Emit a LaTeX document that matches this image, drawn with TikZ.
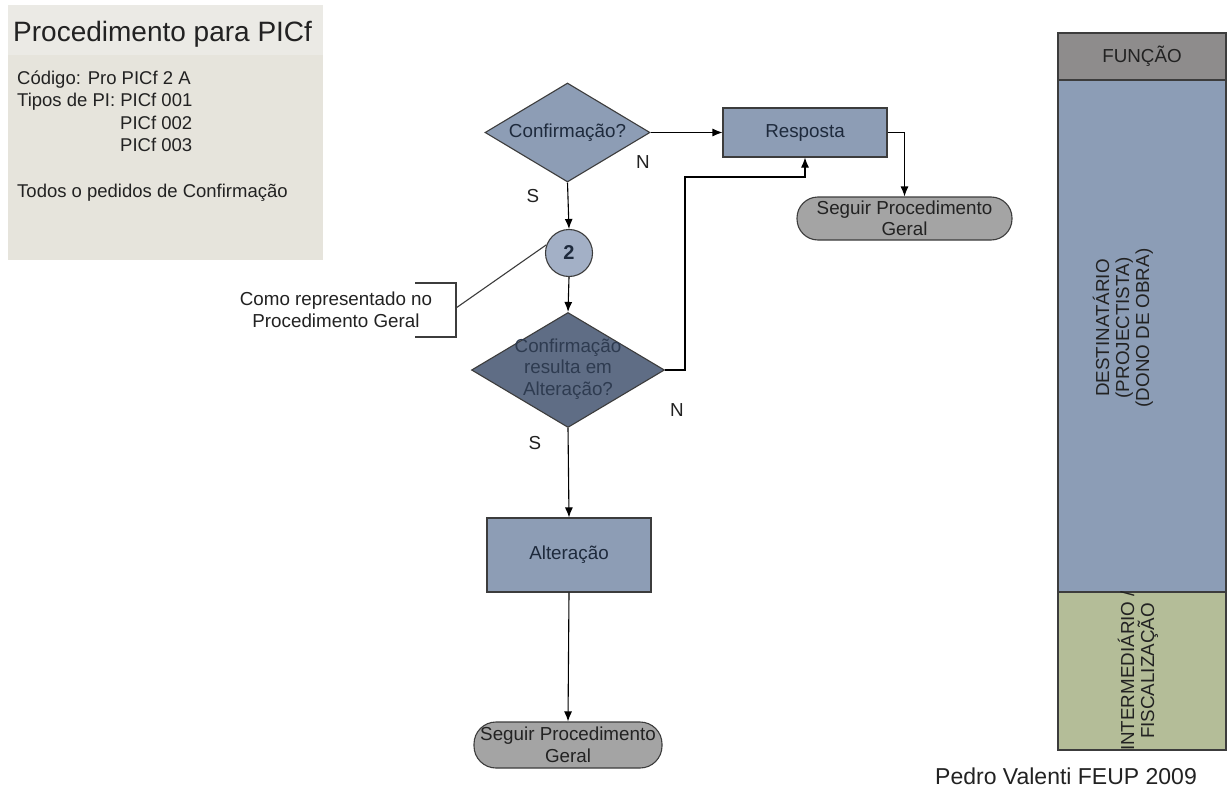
\documentclass[tikz,border=0pt]{standalone}
\usepackage{fontspec}
\setmainfont{Liberation Sans}
\usetikzlibrary{arrows.meta,shapes.geometric}

\definecolor{infobg}{HTML}{E6E4DC}
\definecolor{infotop}{HTML}{EBEAE5}
\definecolor{stepblue}{HTML}{8D9DB5}
\definecolor{connblue}{HTML}{A3B0C6}
\definecolor{decdark}{HTML}{5F6D85}
\definecolor{pillgray}{HTML}{A4A4A4}
\definecolor{lanehead}{HTML}{8E8C8C}
\definecolor{laneblue}{HTML}{8C9DB6}
\definecolor{lanegreen}{HTML}{B4BD98}
\definecolor{edge}{HTML}{3C3C3C}
\definecolor{navytext}{HTML}{1E2A3C}
\definecolor{dectext}{HTML}{2E3B50}
\definecolor{bodytext}{HTML}{222222}

\tikzset{
  flowfont/.style={font=\fontsize{18.8}{21.5}\selectfont},
  stepbox/.style={draw=edge, line width=1.1pt, fill=stepblue, rectangle,
    inner sep=0pt, flowfont, text=navytext},
  decision/.style={draw=edge, line width=1.1pt, diamond, inner sep=0pt},
  pill/.style={draw=edge, line width=1.1pt, fill=pillgray, rectangle,
    inner sep=0pt, flowfont, text=bodytext, align=center},
  connector/.style={draw=edge, line width=1.1pt, fill=connblue, circle,
    inner sep=0pt, minimum size=47pt, font=\fontsize{20}{22}\selectfont\bfseries,
    text=navytext},
  lane/.style={draw=edge, line width=1.1pt, rectangle, inner sep=0pt,
    minimum width=168pt},
  lanetext/.style={font=\fontsize{18.8}{20}\selectfont, text=bodytext, align=center},
  flow/.style={draw=black, line width=1.1pt, -{Latex[length=10pt,width=8pt]}},
  plain/.style={draw=edge, line width=1.1pt},
  yn/.style={flowfont, text=bodytext},
}

\begin{document}
\begin{tikzpicture}[x=1pt,y=-1pt]
\useasboundingbox[fill=white] (0,0) rectangle (1231,789);

% ---- information panel ----
\node[fill=infobg, rectangle, inner sep=0pt, minimum width=315pt,
      minimum height=255pt, anchor=north west] (info) at (8,5) {};
\fill[infotop] (8,5) rectangle (323,55);
\node[anchor=west, inner sep=0pt, font=\fontsize{28}{31}\selectfont, text=bodytext]
  (title) at (13,34) {Procedimento para PICf};
\begin{scope}[every node/.style={anchor=base west, inner sep=0pt,
    font=\fontsize{18.5}{22}\selectfont, text=bodytext}]
  \node (code)  at (17,85)  {Código: Pro PICf 2 A};
  \node (types) at (17,107) {Tipos de PI: PICf 001};
  \node (t2)    at (120,130) {PICf 002};
  \node (t3)    at (120,152) {PICf 003};
  \node (scope) at (17,197) {Todos o pedidos de Confirmação};
\end{scope}

% ---- flow ----
\node[decision, fill=stepblue, minimum width=165pt, minimum height=99pt]
  (d1) at (567.5,132.5) {};
\node[flowfont, text=navytext] (d1txt) at (d1.center) {Confirmação?};

\node[stepbox, minimum width=164pt, minimum height=49pt] (resp) at (805,132.5) {Resposta};

\node[pill, minimum width=215pt, minimum height=43pt, rounded corners=21pt]
  (seg1) at (904.5,218.5) {Seguir Procedimento\\Geral};

\node[connector] (c2) at (569,253) {2};

\node[decision, fill=decdark, minimum width=193pt, minimum height=115pt]
  (d2) at (568,370) {};
\node[flowfont, text=dectext, align=center] (d2txt) at (568,369)
  {Confirmação\\resulta em\\Alteração?};

\node[stepbox, minimum width=164pt, minimum height=74pt] (alt) at (569,555) {Alteração};

\node[pill, minimum width=188pt, minimum height=46pt, rounded corners=22pt]
  (seg2) at (568,745) {Seguir Procedimento\\Geral};

% connectors
\draw[flow] (d1.east) -- (resp.west);
\draw[flow] (resp.east) -| (seg1.north);
\draw[flow] (d1.south) -- (c2.north);
\draw[flow] (c2.south) -- (d2.north);
\coordinate (loop) at (685,177);
\draw[flow] (d2.east) -| (loop) -| (resp.south);
\draw[flow] (d2.south) -- (alt.north);
\draw[flow] (alt.south) -- (seg2.north);

% branch labels
\node[yn] (n1) at (643,162) {N};
\node[yn] (s1) at (533,196) {S};
\node[yn] (n2) at (677,410) {N};
\node[yn] (s2) at (535,443) {S};

% annotation
\node[flowfont, text=bodytext, align=center] (note) at (336,310)
  {Como representado no\\Procedimento Geral};
\coordinate (brtop) at (415,283);
\coordinate (brbot) at (415,337);
\coordinate (brmid) at (456,308);
\draw[plain] (brtop) -- (456,283) -- (456,337) -- (brbot);
\draw[plain] (brmid) -- (c2.160);

% ---- swimlane column ----
\node[lane, fill=lanehead, minimum height=47pt] (lhead) at (1142,56.5) {};
\node[lanetext] (lheadtxt) at (lhead.center) {FUNÇÃO};
\node[lane, fill=laneblue, minimum height=512pt] (lblue) at (1142,336) {};
\node[lanetext, rotate=90] (lbluetxt) at (1123,328)
  {DESTINATÁRIO\\(PROJECTISTA)\\(DONO DE OBRA)};
\node[lane, fill=lanegreen, minimum height=158pt] (lgreen) at (1142,671) {};
\begin{scope}
  \clip (lgreen.south west) rectangle (lgreen.north east);
  \node[lanetext, rotate=90] (lgreentxt) at (1138,671)
    {INTERMEDIÁRIO /\\FISCALIZAÇÃO};
\end{scope}

\node[font=\fontsize{23}{26}\selectfont, text=bodytext] (credit) at (1066,776)
  {Pedro Valenti FEUP 2009};
\end{tikzpicture}
\end{document}
